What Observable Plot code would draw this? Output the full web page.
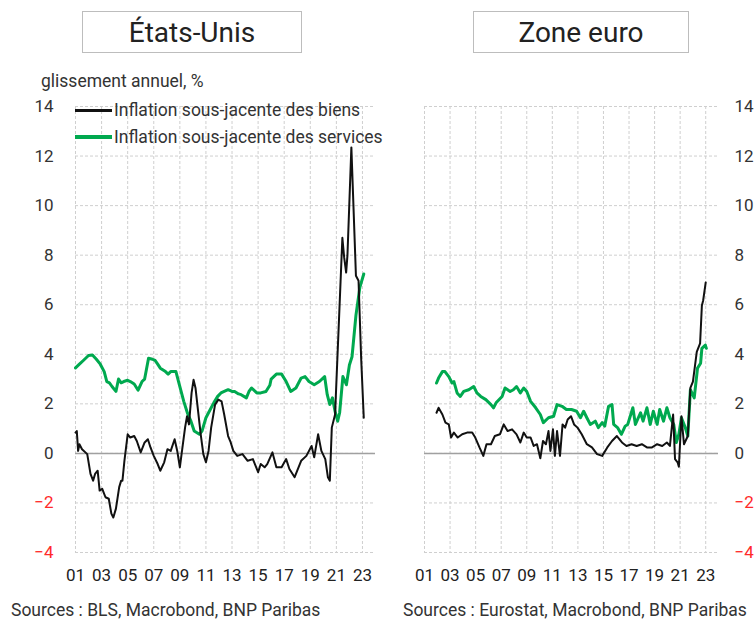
<!DOCTYPE html>
<html>
<head>
<meta charset="utf-8">
<script src="https://cdn.jsdelivr.net/npm/d3@7"></script>
<script src="https://cdn.jsdelivr.net/npm/@observablehq/plot@0.6"></script>
<style>
  html, body { margin: 0; padding: 0; background: #fff; }
  #page { position: relative; width: 755px; height: 621px; overflow: hidden;
          font-family: Roboto, "Noto Sans", sans-serif; color: #333; }
  .box { position: absolute; top: 11px; height: 42px; border: 1.5px solid #bdbdbd;
         display: flex; align-items: center; justify-content: center;
         font-size: 28px; color: #222; box-sizing: border-box; }
  .abs { position: absolute; white-space: nowrap; }
  .panel { position: absolute; top: 96px; }
  .leg-line { position: absolute; height: 3px; }
</style>
</head>
<body>
<div id="page">
  <div class="box" style="left:82px; width:220px;">États-Unis</div>
  <div class="box" style="left:473px; width:216px;">Zone euro</div>
  <div class="abs" style="left:41px; top:71px; font-size:17.5px;">glissement annuel, %</div>
  <div id="left" class="panel" style="left:0px;"></div>
  <div id="right" class="panel" style="left:380px;"></div>
  <div id="legend"></div>
  <div class="abs" style="left:11px; top:600px; font-size:17.5px;">Sources : BLS, Macrobond, BNP Paribas</div>
  <div class="abs" style="left:403px; top:600px; font-size:17.5px;">Sources : Eurostat, Macrobond, BNP Paribas</div>
</div>
<script>
// ---- Data (decimal year, % y/y) ----
const seriesNames = ["Inflation sous-jacente des biens", "Inflation sous-jacente des services"];
const seriesColors = ["#111111", "#00a94f"];

const xTicks = [2001, 2003, 2005, 2007, 2009, 2011, 2013, 2015, 2017, 2019, 2021, 2023];
const yTicks = [-4, -2, 0, 2, 4, 6, 8, 10, 12, 14];

const usGoodsX = [2001.0,2001.1,2001.2,2001.3,2001.5,2001.9,2002.15,2002.35,2002.5,2002.7,2002.85,2003.05,2003.3,2003.55,2003.75,2003.9,2004.1,2004.35,2004.5,2004.6,2004.75,2005.0,2005.2,2005.5,2005.7,2006.0,2006.3,2006.55,2006.75,2007.0,2007.3,2007.5,2007.8,2008.05,2008.3,2008.6,2008.8,2009.0,2009.2,2009.4,2009.55,2009.7,2009.9,2010.05,2010.2,2010.4,2010.6,2010.8,2011.0,2011.2,2011.4,2011.7,2011.95,2012.2,2012.4,2012.7,2012.9,2013.1,2013.4,2013.8,2014.2,2014.6,2015.0,2015.2,2015.5,2015.7,2016.1,2016.4,2016.8,2017.15,2017.4,2017.8,2018.0,2018.3,2018.7,2019.1,2019.3,2019.6,2019.85,2020.15,2020.35,2020.5,2020.65,2020.9,2021.46,2021.6,2021.75,2021.85,2022.15,2022.5,2022.7,2022.9,2023.1];
const usGoodsY = [0.84,0.9,0.1,0.37,0.17,-0.03,-0.83,-1.1,-0.83,-0.7,-1.5,-1.43,-1.77,-1.83,-2.43,-2.59,-2.23,-1.36,-1.1,-1.1,-0.3,0.77,0.64,0.7,0.5,0.04,0.44,0.57,0.24,-0.1,-0.43,-0.7,-0.36,0.17,0.1,0.57,0.1,-0.56,0.24,1.04,1.5,1.17,2.44,2.97,2.64,1.7,0.77,-0.03,-0.36,0.1,1.04,1.97,2.17,2.1,1.57,0.7,0.44,0.1,-0.1,-0.03,-0.3,-0.23,-0.76,-0.43,-0.56,-0.43,0.04,-0.56,-0.56,-0.23,-0.63,-0.96,-0.7,-0.3,-0.1,0.3,-0.16,0.77,0.1,-0.23,-0.96,-1.1,1.04,1.57,8.7,7.9,7.3,8.0,12.35,7.17,6.97,3.84,1.44];

const usServX = [2001.0,2001.3,2001.6,2002.0,2002.3,2002.6,2002.9,2003.2,2003.4,2003.6,2003.8,2004.1,2004.3,2004.5,2004.7,2005.0,2005.2,2005.5,2005.8,2006.1,2006.3,2006.6,2006.9,2007.1,2007.3,2007.5,2007.9,2008.1,2008.3,2008.7,2008.95,2009.3,2009.6,2009.85,2010.1,2010.5,2010.7,2011.0,2011.2,2011.6,2011.9,2012.15,2012.4,2012.7,2013.0,2013.2,2013.5,2013.7,2014.1,2014.3,2014.5,2014.9,2015.2,2015.6,2015.9,2016.0,2016.4,2016.8,2017.15,2017.5,2017.9,2018.3,2018.6,2018.9,2019.3,2019.7,2020.1,2020.3,2020.5,2020.7,2020.9,2021.1,2021.25,2021.5,2021.77,2022.0,2022.2,2022.5,2022.8,2023.1];
const usServY = [3.45,3.6,3.75,3.95,3.97,3.8,3.6,3.3,2.9,2.85,2.7,2.5,3.0,2.85,2.9,2.95,2.9,2.8,2.55,2.9,3.0,3.84,3.8,3.75,3.6,3.44,3.3,3.2,3.3,3.3,2.8,2.1,1.6,1.3,0.9,0.77,0.9,1.44,1.64,2.04,2.3,2.44,2.5,2.57,2.5,2.5,2.4,2.37,2.24,2.5,2.64,2.44,2.44,2.5,2.75,3.0,3.2,3.2,2.9,2.5,2.64,3.04,3.1,2.9,2.77,2.9,3.1,2.37,1.97,2.24,1.7,1.3,1.64,3.1,2.77,3.57,3.9,5.57,6.7,7.24];

const euGoodsX = [2001.94,2002.1,2002.4,2002.64,2002.9,2003.08,2003.3,2003.6,2003.95,2004.33,2004.73,2004.97,2005.3,2005.6,2005.85,2006.2,2006.5,2006.9,2007.2,2007.5,2007.85,2008.2,2008.5,2008.76,2009.0,2009.3,2009.54,2009.8,2010.06,2010.27,2010.5,2010.7,2010.85,2011.05,2011.2,2011.37,2011.6,2011.8,2012.0,2012.2,2012.46,2012.7,2012.97,2013.3,2013.7,2014.1,2014.5,2014.9,2015.3,2015.67,2016.05,2016.45,2016.8,2017.2,2017.6,2018.0,2018.4,2018.8,2019.2,2019.6,2019.96,2020.2,2020.45,2020.6,2020.8,2020.9,2021.1,2021.3,2021.6,2021.8,2022.0,2022.3,2022.56,2022.7,2022.8,2023.0];
const euGoodsY = [1.64,1.84,1.57,1.24,1.17,0.64,0.84,0.64,0.77,0.84,0.84,0.64,0.24,-0.1,0.37,0.37,0.7,0.77,1.17,0.9,0.97,0.77,0.44,0.84,0.64,0.64,0.3,0.37,-0.2,0.5,0.37,0.9,0.1,0.97,-0.1,0.9,-0.1,1.17,1.04,1.37,1.5,1.17,1.04,0.77,0.37,0.24,-0.03,-0.1,0.24,0.5,0.7,0.44,0.3,0.37,0.3,0.37,0.24,0.24,0.37,0.3,0.44,0.3,1.57,-0.23,-0.36,-0.54,1.5,0.37,0.7,2.64,2.9,4.1,4.44,5.97,6.17,6.9];

const euServX = [2001.94,2002.1,2002.4,2002.6,2002.9,2003.16,2003.3,2003.55,2003.8,2004.07,2004.46,2004.85,2005.1,2005.4,2005.8,2006.2,2006.4,2006.6,2007.07,2007.3,2007.7,2007.95,2008.2,2008.5,2008.76,2009.0,2009.3,2009.7,2010.06,2010.3,2010.7,2011.1,2011.37,2011.76,2012.1,2012.5,2012.9,2013.2,2013.45,2013.7,2013.97,2014.36,2014.6,2014.9,2015.1,2015.4,2015.67,2015.8,2016.1,2016.4,2016.7,2016.9,2017.3,2017.5,2017.9,2018.1,2018.4,2018.66,2018.9,2019.2,2019.4,2019.7,2019.96,2020.2,2020.5,2020.7,2020.9,2021.1,2021.4,2021.6,2021.8,2022.1,2022.36,2022.6,2022.7,2022.97,2023.05];
const euServY = [2.84,3.04,3.3,3.3,3.1,2.84,2.9,2.44,2.3,2.5,2.57,2.7,2.44,2.3,2.17,1.97,1.84,2.04,2.3,2.64,2.5,2.57,2.7,2.44,2.64,2.5,2.1,1.84,1.57,1.24,1.44,1.5,1.97,1.9,1.77,1.77,1.7,1.44,1.7,1.44,1.17,1.3,1.04,1.24,1.1,1.9,1.97,1.17,1.04,0.77,1.1,1.17,1.84,1.17,1.64,1.3,1.84,1.17,1.7,1.17,1.77,1.3,1.84,1.44,1.17,0.44,0.77,1.44,1.04,0.7,2.57,2.24,3.44,3.64,4.24,4.37,4.24];

const zip = (xs, ys) => xs.map((x, i) => ({x, y: ys[i]}));

const fmtYear = d => String(d % 100).padStart(2, "0");
const labelFill = d => d < 0 ? "#ff2a2a" : "#333";

function panel(goods, serv, side) {
  const left = side === "left";
  return Plot.plot({
    width: left ? 400 : 375,
    height: 495,
    marginLeft: left ? 75 : 44,
    marginRight: left ? 25 : 37,
    marginTop: 10,
    marginBottom: 39,
    style: {fontFamily: "Roboto, 'Noto Sans', sans-serif", overflow: "visible", background: "transparent"},
    x: {domain: [2001, 2024]},
    y: {domain: [-4, 14]},
    marks: [
      Plot.gridX(xTicks, {stroke: "#cfcfcf", strokeOpacity: 1, strokeDasharray: "3,2", strokeWidth: 1}),
      Plot.gridY(yTicks, {stroke: "#cfcfcf", strokeOpacity: 1, strokeDasharray: "3,2", strokeWidth: 1}),
      Plot.ruleY([0], {stroke: "#a0a0a0", strokeWidth: 1.5}),
      Plot.line(serv, {x: "x", y: "y", stroke: seriesColors[1], strokeWidth: 3, curve: "linear"}),
      Plot.line(goods, {x: "x", y: "y", stroke: seriesColors[0], strokeWidth: 2, curve: "linear"}),
      Plot.axisX(xTicks, {tickSize: 0, tickPadding: 16, tickFormat: fmtYear, fontSize: 17, fill: "#222", label: null}),
      Plot.axisY(yTicks, {anchor: left ? "left" : "right", tickSize: 0, tickPadding: left ? 22 : 16,
                          fontSize: 17, fill: labelFill, label: null})
    ]
  });
}

document.getElementById("left").appendChild(panel(zip(usGoodsX, usGoodsY), zip(usServX, usServY), "left"));
document.getElementById("right").appendChild(panel(zip(euGoodsX, euGoodsY), zip(euServX, euServY), "right"));

// Legend (HTML, drawn over the left panel)
const legend = document.getElementById("legend");
const legY = [110, 137];
seriesNames.forEach((name, i) => {
  const ln = document.createElement("div");
  ln.className = "leg-line";
  ln.style.cssText = `left:75px; top:${legY[i] - (i ? 2 : 1)}px; width:37px; height:${i ? 4 : 2.5}px; background:${seriesColors[i]};`;
  legend.appendChild(ln);
  const tx = document.createElement("div");
  tx.className = "abs";
  tx.style.cssText = `left:114px; top:${legY[i] - 12}px; font-size:17.5px; line-height:24px; color:#333;`;
  tx.textContent = name;
  legend.appendChild(tx);
});
</script>
</body>
</html>
